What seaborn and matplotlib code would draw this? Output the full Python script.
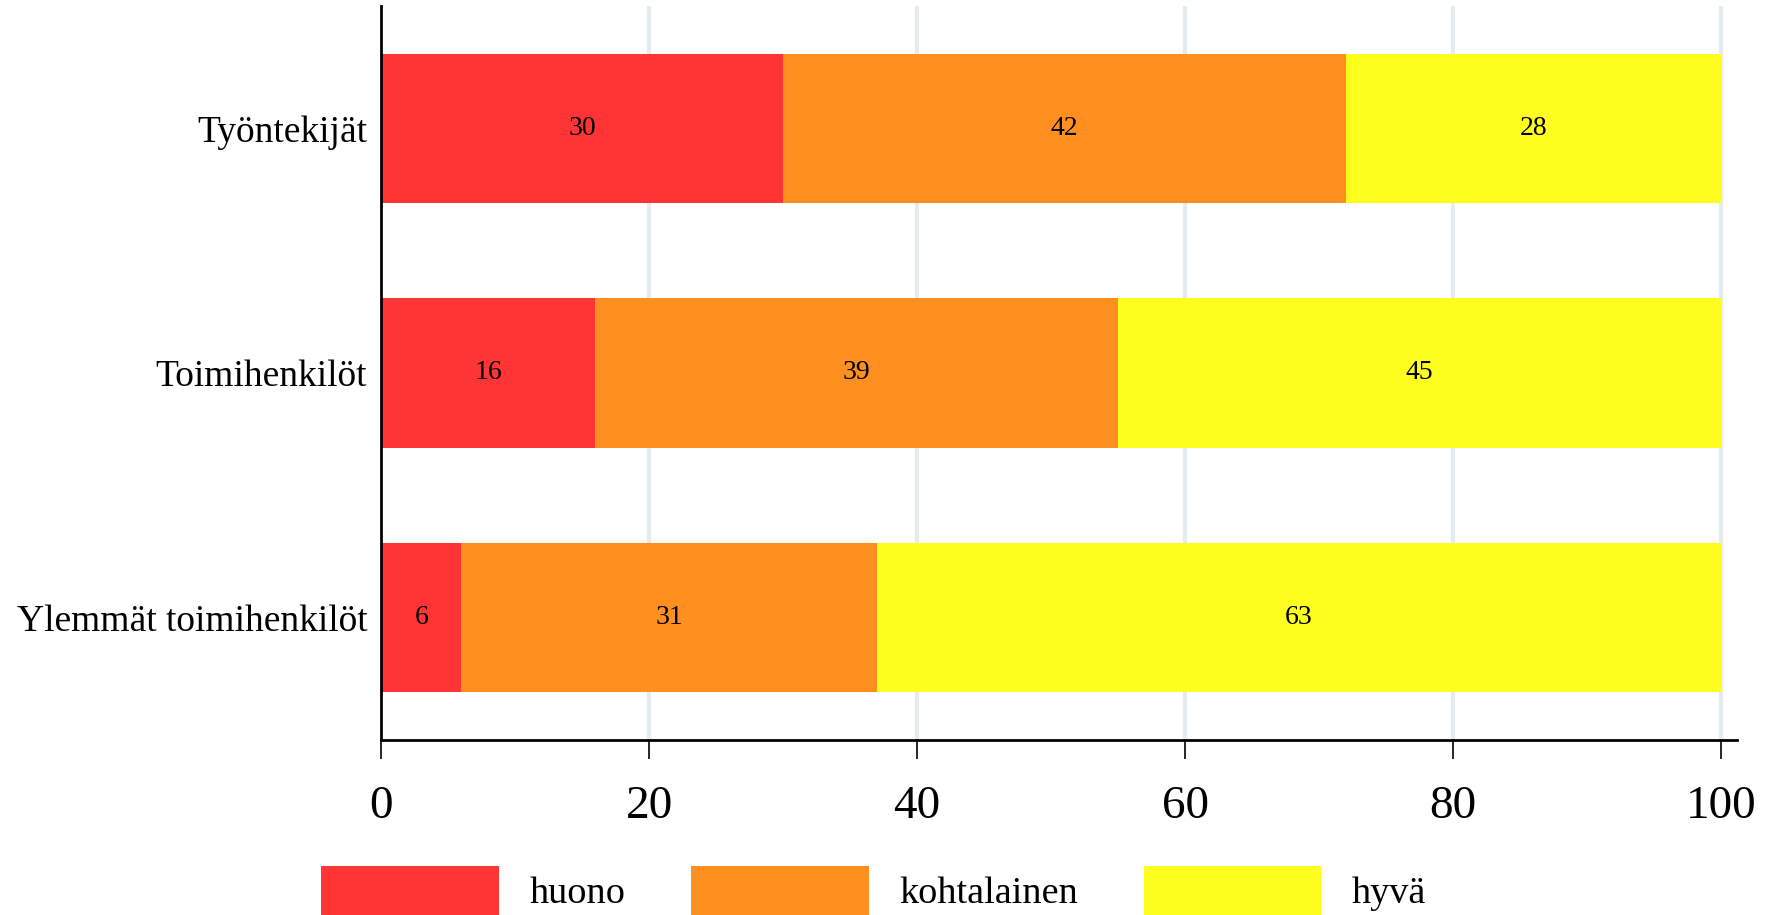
import numpy as np
import pandas as pd
import seaborn as sns
import matplotlib
import matplotlib.pyplot as plt
from matplotlib.patches import Patch
matplotlib.use('AGG')

# Data
groups = ['Työntekijät', 'Toimihenkilöt', 'Ylemmät toimihenkilöt']
huono = [30, 16, 6]
kohtalainen = [42, 39, 31]
hyva = [28, 45, 63]
series_names = ['huono', 'kohtalainen', 'hyvä']
colors = ['#ff3535', '#ff8f1f', '#ffff1f']
xticks = [0, 20, 40, 60, 80, 100]

sns.set_style("white")
plt.rcParams['font.family'] = ['Liberation Serif', 'DejaVu Serif']
plt.rcParams['text.color'] = 'black'
plt.rcParams['xtick.color'] = 'black'
plt.rcParams['ytick.color'] = 'black'

df = pd.DataFrame({'group': groups, 'huono': huono,
                   'kohtalainen': kohtalainen, 'hyvä': hyva})
values = df[series_names].to_numpy()
cum = values.cumsum(axis=1)

fig = plt.figure(figsize=(17.69, 9.15), dpi=100)
ax = fig.add_axes([0.2154, 0.1913, 0.982 - 0.2154, 0.9934 - 0.1913])

# stacked bars: draw the longest cumulative first, shorter ones on top
for i in reversed(range(len(series_names))):
    sns.barplot(x=cum[:, i], y=df['group'], color=colors[i], orient='h',
                width=0.61, saturation=1, linewidth=0, ax=ax, zorder=2)

# value labels in segment centres
for r in range(len(groups)):
    for i in range(len(series_names)):
        centre = cum[r, i] - values[r, i] / 2
        ax.text(centre, r, str(values[r, i]), ha='center', va='center',
                fontsize=20, color='black', zorder=3)

ax.set_xlim(0, 101.2)
ax.set_ylim(2.5, -0.5)
ax.set_xticks(xticks)
ax.set_xlabel('')
ax.set_ylabel('')
ax.grid(axis='x', color='#e4ecef', linewidth=3, zorder=0)
ax.grid(axis='y', visible=False)
for gl, t in zip(ax.get_xgridlines(), xticks):
    if t == 0:
        gl.set_visible(False)
ax.set_axisbelow(True)

for side in ['top', 'right']:
    ax.spines[side].set_visible(False)
for side in ['left', 'bottom']:
    ax.spines[side].set_color('black')
    ax.spines[side].set_linewidth(2)

ax.tick_params(axis='x', length=14, width=1.2, color='black',
               labelsize=34, pad=19, direction='out', bottom=True)
ax.tick_params(axis='y', length=0, labelsize=27, pad=10)

handles = [Patch(facecolor=c, edgecolor='none') for c in colors]
fig.legend(handles, series_names, loc='upper left',
           bbox_to_anchor=(0.1815, 0.0536), ncol=3, frameon=False,
           fontsize=27.5, handlelength=4.65, handleheight=1.6,
           handletextpad=0.8, columnspacing=1.72, borderpad=0,
           borderaxespad=0)

plt.savefig('out.png', dpi=100)
